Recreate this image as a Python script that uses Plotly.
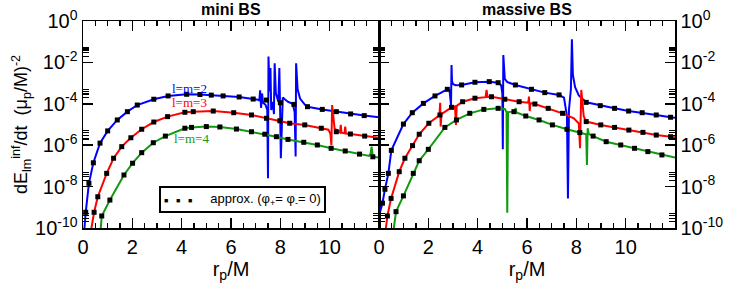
import plotly.graph_objects as go

# ---------------- data (log10 of dE/dt) ----------------
# mini BS, l=m=2 (blue)
mini2_r = [0.04, 0.11, 0.24, 0.42, 0.69, 1.0, 1.39, 1.8, 2.2, 2.87, 3.45, 4.2, 4.74, 5.2, 5.68, 6.33, 6.9, 7.1,
           7.15, 7.18, 7.22, 7.26, 7.3, 7.4, 7.47, 7.5, 7.52, 7.56, 7.6, 7.63, 7.7, 7.74, 7.77, 7.82, 7.92, 7.96, 7.99,
           8.02, 8.1, 8.3, 8.5, 8.58, 8.62, 8.64, 8.7, 8.8, 9.0, 9.1, 9.7, 10.27, 10.85, 11.4, 12.0]
mini2_v = [-10.3, -9.24, -7.84, -6.85, -5.9, -5.31, -4.78, -4.38, -4.06, -3.78, -3.62, -3.54, -3.55, -3.58, -3.62, -3.67, -3.77, -3.8,
           -3.85, -3.35, -4.2, -3.5, -3.95, -4.05, -4.3, -7.6, -1.72, -3.4, -2.27, -4.3, -3.9, -4.5, -2.04, -3.5, -3.9, -2.27, -4.2,
           -6.63, -3.7, -3.9, -4.0, -4.4, -6.55, -2.04, -3.3, -3.75, -4.05, -4.14, -4.27, -4.38, -4.49, -4.57, -4.65]
mini2_dot_r = [0.11, 0.24, 0.42, 0.69, 1.0, 1.39, 1.8, 2.2, 2.87, 3.45, 4.2, 4.74, 5.2, 5.68, 6.33, 6.9, 7.44, 8.0, 8.55,
               9.1, 9.7, 10.27, 10.85, 11.4]
mini2_dot_v = [-9.24, -7.84, -6.85, -5.9, -5.31, -4.78, -4.38, -4.06, -3.78, -3.62, -3.54, -3.55, -3.58, -3.62, -3.67, -3.77, -3.82,
               -3.95, -4.03, -4.14, -4.27, -4.38, -4.49, -4.57]

# mini BS, l=m=3 (red)
mini3_r = [0.3, 0.45, 0.6, 0.96, 1.24, 1.57, 1.94, 2.38, 2.87, 3.43, 4.13, 4.47, 5.28, 6.11, 6.83, 7.44, 7.98, 8.38, 8.99,
           9.66, 9.95, 10.03, 10.07, 10.1, 10.2, 10.42, 10.45, 10.48, 10.6, 10.63, 10.66, 10.84, 11.42, 12.0]
mini3_v = [-10.3, -9.24, -8.49, -7.36, -6.63, -6.07, -5.64, -5.23, -4.88, -4.62, -4.41, -4.38, -4.35, -4.43, -4.54, -4.7, -4.82,
           -4.94, -5.02, -5.18, -5.25, -5.45, -6.0, -4.06, -5.2, -5.38, -5.02, -5.4, -5.43, -5.1, -5.44, -5.46, -5.56, -5.64]
mini3_dot_r = [0.45, 0.6, 0.96, 1.24, 1.57, 1.94, 2.38, 2.87, 3.43, 4.13, 4.47, 5.28, 6.11, 6.83, 7.44, 7.98, 8.38, 8.99,
               9.66, 10.27, 10.84, 11.42]
mini3_dot_v = [-9.24, -8.49, -7.36, -6.63, -6.07, -5.64, -5.23, -4.88, -4.62, -4.41, -4.38, -4.35, -4.43, -4.54, -4.7, -4.82,
               -4.94, -5.02, -5.18, -5.35, -5.46, -5.56]

# mini BS, l=m=4 (green)
mini4_r = [0.7, 0.76, 1.09, 1.66, 2.01, 2.38, 2.85, 3.34, 4.13, 4.4, 5.0, 5.55, 6.22, 6.83, 7.37, 7.84, 8.31, 8.95,
           9.5, 10.06, 10.63, 11.21, 11.6, 11.66, 11.7, 11.75, 12.0]
mini4_v = [-10.3, -9.42, -8.65, -7.44, -6.87, -6.36, -5.88, -5.56, -5.18, -5.14, -5.1, -5.12, -5.22, -5.35, -5.47, -5.59, -5.72,
           -5.86, -5.99, -6.15, -6.28, -6.43, -6.52, -6.4, -6.07, -6.56, -6.6]
mini4_dot_r = [0.76, 1.09, 1.66, 2.01, 2.38, 2.85, 3.34, 4.13, 4.4, 5.0, 5.55, 6.22, 6.83, 7.37, 7.84, 8.31, 8.95,
               9.5, 10.06, 10.63, 11.21, 11.75]
mini4_dot_v = [-9.42, -8.65, -7.44, -6.87, -6.36, -5.88, -5.56, -5.18, -5.14, -5.1, -5.12, -5.22, -5.35, -5.47, -5.59, -5.72,
               -5.86, -5.99, -6.15, -6.28, -6.43, -6.56]

# massive BS, l=m=2 (blue)
mass2_r = [0.05, 0.14, 0.24, 0.38, 0.5, 0.99, 1.35, 1.8, 2.27, 2.77, 2.86, 2.92, 2.94, 2.96, 3.0, 3.1, 3.35, 3.89, 4.47,
           4.83, 4.95, 5.0, 5.02, 5.04, 5.1, 5.2, 5.53, 6.18, 6.72, 7.3, 7.5, 7.62, 7.66, 7.7, 7.78, 7.82, 7.86, 7.95,
           8.1, 8.4, 8.97, 9.55, 10.12, 10.67, 11.24, 11.82, 12.0]
mass2_v = [-9.2, -8.8, -8.13, -7.36, -6.25, -4.98, -4.43, -3.98, -3.62, -3.3, -3.35, -4.06, -2.13, -2.9, -3.05, -3.1, -3.09, -2.96,
           -2.93, -2.98, -3.1, -3.5, -6.2, -1.64, -2.8, -2.95, -3.09, -3.3, -3.46, -3.57, -3.7, -4.6, -8.57, -4.3, -3.3, -0.88,
           -2.6, -3.2, -3.6, -3.93, -4.09, -4.22, -4.35, -4.43, -4.54, -4.65, -4.68]
mass2_dot_r = [0.14, 0.24, 0.38, 0.5, 0.99, 1.35, 1.8, 2.27, 2.77, 3.35, 3.89, 4.47, 4.83, 5.53, 6.18, 6.72, 7.3,
               8.4, 8.97, 9.55, 10.12, 10.67, 11.24, 11.82]
mass2_dot_v = [-8.8, -8.13, -7.36, -6.25, -4.98, -4.43, -3.98, -3.62, -3.3, -3.09, -2.96, -2.93, -2.98, -3.09, -3.3, -3.46, -3.57,
               -3.93, -4.09, -4.22, -4.35, -4.43, -4.54, -4.65]

# massive BS, l=m=3 (red)
mass3_r = [0.26, 0.34, 0.49, 0.82, 1.05, 1.36, 1.63, 2.02, 2.45, 2.48, 2.5, 2.53, 2.94, 3.08, 3.12, 3.15, 3.39, 3.89,
           4.32, 4.36, 4.4, 4.56, 5.1, 5.68, 6.05, 6.08, 6.11, 6.14, 6.32, 6.86, 7.44, 7.9, 8.1, 8.15, 8.2, 8.3, 8.4,
           8.99, 9.55, 10.13, 10.7, 11.24, 11.82, 12.0]
mass3_v = [-10.2, -9.42, -8.57, -7.28, -6.63, -6.02, -5.47, -4.94, -4.55, -3.95, -5.1, -4.5, -4.17, -4.12, -5.02, -4.1, -3.9, -3.73,
           -3.68, -3.33, -3.67, -3.66, -3.78, -3.9, -3.95, -3.65, -4.35, -3.97, -4.01, -4.22, -4.46, -4.7, -4.95, -6.15, -3.33,
           -4.6, -4.86, -5.02, -5.14, -5.27, -5.38, -5.51, -5.59, -5.62]
mass3_dot_r = [0.34, 0.49, 0.82, 1.05, 1.36, 1.63, 2.02, 2.47, 2.94, 3.39, 3.89, 4.56, 5.1, 5.68, 6.32, 6.86, 7.44,
               8.4, 8.99, 9.55, 10.13, 10.7, 11.24, 11.82]
mass3_dot_v = [-9.42, -8.57, -7.28, -6.63, -6.02, -5.47, -4.94, -4.54, -4.17, -3.9, -3.73, -3.66, -3.78, -3.9, -4.01, -4.22, -4.46,
               -4.86, -5.02, -5.14, -5.27, -5.38, -5.51, -5.59]

# massive BS, l=m=4 (green)
mass4_r = [0.58, 0.69, 0.99, 1.39, 1.63, 2.0, 2.67, 3.14, 3.68, 4.25, 4.83, 5.1, 5.17, 5.2, 5.23, 5.5, 5.54, 5.57,
           5.95, 6.49, 7.03, 7.62, 8.14, 8.4, 8.43, 8.46, 8.5, 8.68, 9.21, 9.8, 10.36, 10.9, 11.47, 12.0]
mass4_v = [-10.2, -9.21, -8.45, -7.36, -6.75, -6.2, -5.14, -4.78, -4.46, -4.27, -4.22, -4.25, -4.4, -9.26, -4.4, -4.38, -4.2, -4.42,
           -4.59, -4.78, -5.02, -5.23, -5.39, -5.47, -6.96, -5.18, -5.45, -5.56, -5.83, -5.99, -6.15, -6.31, -6.47, -6.59]
mass4_dot_r = [0.69, 0.99, 1.39, 1.63, 2.0, 2.67, 3.14, 3.68, 4.25, 4.83, 5.47, 5.95, 6.49, 7.03, 7.62, 8.14, 8.68,
               9.21, 9.8, 10.36, 10.9, 11.47]
mass4_dot_v = [-9.21, -8.45, -7.36, -6.75, -6.2, -5.14, -4.78, -4.46, -4.27, -4.22, -4.38, -4.59, -4.78, -5.02, -5.23, -5.39, -5.56,
               -5.83, -5.99, -6.15, -6.31, -6.47]

# axis ticks / labels
x_tick_vals = [0, 2, 4, 6, 8, 10]
y_tick_exp = [0, -2, -4, -6, -8, -10]
y_minor_factors = [2, 3, 4, 5]
panel_titles = ["mini BS", "massive BS"]
curve_labels = ["l=m=2", "l=m=3", "l=m=4"]
label_pos_r = [4.33, 4.33, 4.41]
label_pos_v = [-3.24, -3.96, -5.70]
legend_text = "approx. (φ<sub>+</sub>= φ<sub>-</sub>= 0)"

BLUE = "#0000ff"
RED = "#ff0000"
GREEN = "#119911"


def pw(vals):
    return [10 ** v for v in vals]


fig = go.Figure()

series = [
    ("x", "y", mini2_r, mini2_v, mini2_dot_r, mini2_dot_v, BLUE),
    ("x", "y", mini3_r, mini3_v, mini3_dot_r, mini3_dot_v, RED),
    ("x", "y", mini4_r, mini4_v, mini4_dot_r, mini4_dot_v, GREEN),
    ("x2", "y2", mass2_r, mass2_v, mass2_dot_r, mass2_dot_v, BLUE),
    ("x2", "y2", mass3_r, mass3_v, mass3_dot_r, mass3_dot_v, RED),
    ("x2", "y2", mass4_r, mass4_v, mass4_dot_r, mass4_dot_v, GREEN),
]
for xa, ya, lr, lv, dr, dv, col in series:
    fig.add_trace(go.Scatter(x=lr, y=pw(lv), mode="lines", line=dict(color=col, width=2),
                             xaxis=xa, yaxis=ya, showlegend=False, hoverinfo="skip"))
for xa, ya, lr, lv, dr, dv, col in series:
    fig.add_trace(go.Scatter(x=dr, y=pw(dv), mode="markers",
                             marker=dict(symbol="square", size=5, color="black"),
                             xaxis=xa, yaxis=ya, showlegend=False, hoverinfo="skip"))
# empty traces so the overlay axes carrying the minor y ticks are drawn
fig.add_trace(go.Scatter(x=[], y=[], xaxis="x", yaxis="y3", showlegend=False, hoverinfo="skip"))
fig.add_trace(go.Scatter(x=[], y=[], xaxis="x2", yaxis="y4", showlegend=False, hoverinfo="skip"))

FONT = "Liberation Sans, Arial, sans-serif"
y_tickvals = [10.0 ** e for e in y_tick_exp]
y_ticktext = ["10<sup>%d</sup>" % e for e in y_tick_exp]
y_minor_vals = [f * 10.0 ** e for e in y_tick_exp[1:] for f in y_minor_factors]

common_x = dict(range=[0, 12], showline=True, linecolor="black", linewidth=1.5, mirror="ticks",
                ticks="inside", ticklen=10, tickwidth=1.5, tickcolor="black",
                tickmode="array", tickvals=x_tick_vals, automargin=False,
                minor=dict(dtick=0.5, ticklen=5, tickwidth=1.5, tickcolor="black", ticks="inside"),
                showgrid=False, zeroline=False, tickfont=dict(family=FONT, size=20, color="black"),
                title=dict(text="r<sub>p</sub>/M", font=dict(family=FONT, size=20, color="black"), standoff=2))
common_y = dict(type="log", range=[-10, 0], showline=True, linecolor="black", linewidth=1.5, mirror="ticks",
                ticks="inside", ticklen=10, tickwidth=1.5, tickcolor="black", automargin=False,
                tickmode="array", tickvals=y_tickvals, ticktext=y_ticktext,
                showgrid=False, zeroline=False, tickfont=dict(family=FONT, size=20, color="black"))
minor_y = dict(type="log", range=[-10, 0], showline=True, linecolor="black", linewidth=1.5, mirror="ticks",
               ticks="inside", ticklen=6, tickwidth=1.2, tickcolor="black", automargin=False,
               tickmode="array", tickvals=y_minor_vals, showticklabels=False,
               showgrid=False, zeroline=False)

fig.update_layout(
    width=731, height=284,
    margin=dict(l=83, r=56, t=21, b=56),
    paper_bgcolor="white", plot_bgcolor="white",
    xaxis=dict(domain=[0, 0.5], anchor="y", **common_x),
    xaxis2=dict(domain=[0.5, 1], anchor="y2", **common_x),
    yaxis=dict(anchor="x", side="left", **common_y,
               title=dict(text="dE<sub>lm</sub><sup>inf</sup>/dt  (μ<sub>p</sub>/M)<sup>-2</sup>",
                          font=dict(family=FONT, size=18, color="black"), standoff=2)),
    yaxis2=dict(anchor="x2", side="right", **common_y),
    yaxis3=dict(anchor="x", overlaying="y", side="left", **minor_y),
    yaxis4=dict(anchor="x2", overlaying="y2", side="right", **minor_y),
    showlegend=False,
)

annotations = []
for i, t in enumerate(panel_titles):
    annotations.append(dict(text="<b>%s</b>" % t, x=0.25 + 0.5 * i, y=1, xref="paper", yref="paper",
                            xanchor="center", yanchor="bottom", yshift=1, showarrow=False,
                            font=dict(family=FONT, size=16, color="black")))
for t, r, v, col in zip(curve_labels, label_pos_r, label_pos_v, [BLUE, RED, GREEN]):
    annotations.append(dict(text=t, x=r, y=v, xref="x", yref="y", showarrow=False,
                            font=dict(family="Liberation Serif, Times New Roman, serif", size=13, color=col)))
annotations.append(dict(
    text='<span style="font-size:7px">■    ■    ■</span>     ' + legend_text,
    x=0.270, y=0.1377, xref="paper", yref="paper", xanchor="center", yanchor="middle", showarrow=False,
    bordercolor="black", borderwidth=2, borderpad=3, bgcolor="white",
    font=dict(family=FONT, size=13, color="black")))
fig.update_layout(annotations=annotations)

fig.write_html("out.html", config={"displayModeBar": False, "staticPlot": True},
               post_script="document.body.style.margin='0';document.body.style.padding='0';")
